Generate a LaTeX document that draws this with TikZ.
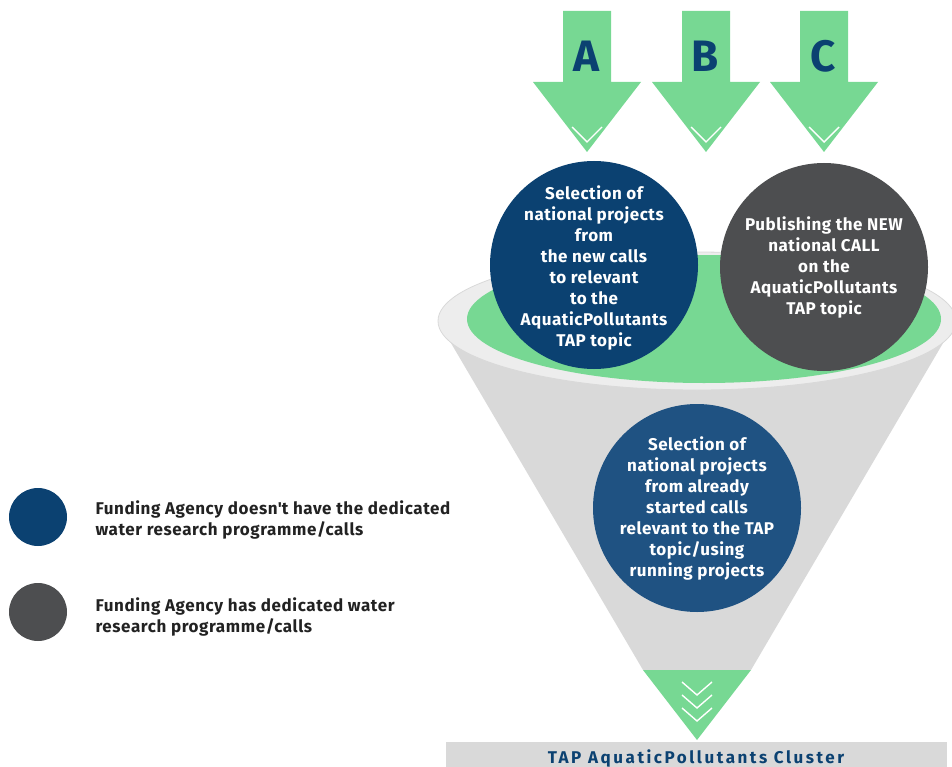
\documentclass[tikz,border=0pt]{standalone}
\usepackage{fontspec}
\setmainfont{Fira Sans}
\definecolor{tgreen}{HTML}{77D893}
\definecolor{tblue}{HTML}{0B4171}
\definecolor{tmid}{HTML}{1F5282}
\definecolor{tgray}{HTML}{4D4E50}
\definecolor{tfun}{HTML}{D9D9D9}
\definecolor{trim}{HTML}{EDEDED}
\definecolor{ttext}{HTML}{222222}
\begin{document}
\begin{tikzpicture}[x=1pt,y=-1pt,
  bigcirc/.style={circle, minimum size=208pt, inner sep=0pt},
  circtext/.style={text=white, inner sep=0pt,
    font=\fontsize{17}{21}\selectfont\bfseries\addfontfeature{LetterSpace=3}, align=center},
  legcirc/.style={circle, minimum size=58pt, inner sep=0pt},
  legtext/.style={anchor=west, align=left, text=ttext,
    font=\fontsize{17}{21}\selectfont\bfseries\addfontfeature{LetterSpace=3.5}},
  letter/.style={text=tblue, font=\fontsize{44}{44}\selectfont\bfseries, inner sep=0pt},
  chev/.style={white, line width=1.4pt},
]
\useasboundingbox (0,0) rectangle (952,767);
\clip (0,0) rectangle (952,767);

% arrows A B C
\foreach \cx/\L/\n in {587/A/a, 706/B/b, 824/C/c} {
  \fill[tgreen] (\cx-24,11) -- (\cx+24,11) -- (\cx+24,82) -- (\cx+54,82)
     -- (\cx,152) -- (\cx-54,82) -- (\cx-24,82) -- cycle;
  \draw[chev] (\cx-15,127) -- (\cx,142) -- (\cx+15,127);
  \node[letter] (\n) at (\cx-1,56) {\L};
}

% funnel
\fill[tfun] (438,321) -- (643,670) -- (751,670) -- (956,321) -- cycle;
\fill[trim] (697,321) ellipse [x radius=259, y radius=69];
\draw[tfun, line width=0.8pt] (697,321) ellipse [x radius=259, y radius=69];
\fill[tgreen] (704,319) ellipse [x radius=237, y radius=64];
\fill[tgreen] (643,670) -- (751,670) -- (697,740) -- cycle;
\foreach \dy in {0,13,26} {
  \draw[chev] (682,682+\dy) -- (697,695+\dy) -- (712,682+\dy);
}

% circles
\node[bigcirc, fill=tblue] (c1) at (594,265) {};
\node[circtext] (c1t) at (594,268)
  {Selection of\\national projects\\from\\the new calls\\to relevant\\to the\\AquaticPollutants\\TAP topic};
\node[bigcirc, fill=tgray] (c2) at (824,267) {};
\node[circtext] (c2t) at (c2)
  {Publishing the NEW\\national CALL\\on the\\AquaticPollutants\\TAP topic};
\node[bigcirc, fill=tmid] (c3) at (697,508) {};
\node[circtext] (c3t) at (c3)
  {Selection of\\national projects\\from already\\started calls\\relevant to the TAP\\topic/using\\running projects};

% bottom bar
\fill[tfun] (446,742) rectangle (947,772);
\node[text=tblue, font=\fontsize{17}{17}\selectfont\bfseries\addfontfeature{LetterSpace=15}]
  (bar) at (696,758) {TAP AquaticPollutants Cluster};

% legend
\node[legcirc, fill=tblue] (l1) at (38,517) {};
\node[legcirc, fill=tgray] (l2) at (38,612) {};
\node[legtext] (t1) at (92,520) {Funding Agency doesn\textquotesingle t have the dedicated\\water research programme/calls};
\node[legtext] (t2) at (92,617) {Funding Agency has dedicated water\\research programme/calls};
\end{tikzpicture}
\end{document}
